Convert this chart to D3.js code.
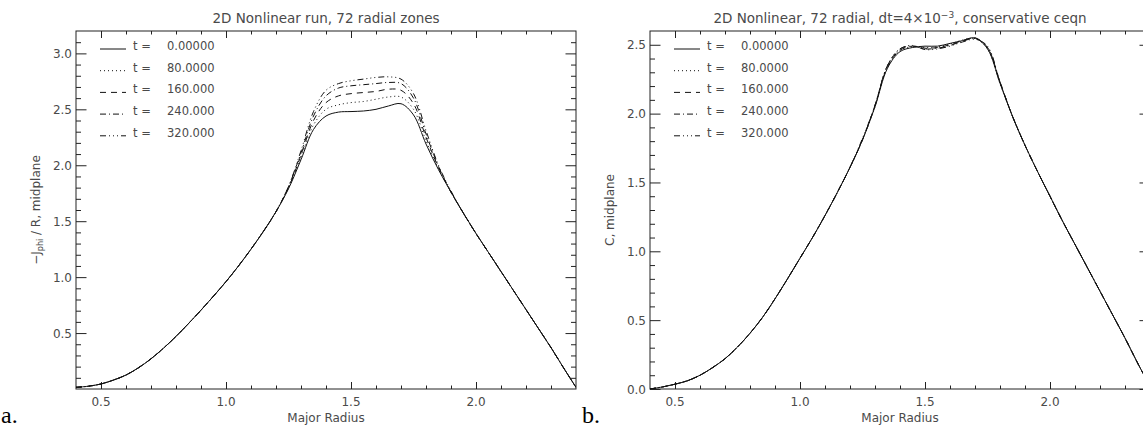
<!DOCTYPE html>
<meta charset="utf-8">
<script src="https://d3js.org/d3.v7.min.js"></script>
<style>
  body { margin: 0; background: #fff; }
  text { font-family: "DejaVu Sans", sans-serif; fill: #4a4a4a; }
</style>
<div id="my_dataviz"></div>
<script>

// radial grid (major radius)
var radius = [0.40,0.45,0.50,0.55,0.60,0.65,0.70,0.75,0.80,0.85,0.90,0.95,1.00,1.05,1.10,1.15,1.20,1.25,1.30,1.35,
              1.40,1.45,1.50,1.55,1.60,1.65,1.70,1.75,1.80,1.85,1.90,1.95,2.00,2.05,2.10,2.15,2.20,2.25,2.30,2.35,2.40];

// panel a: -J_phi / R at midplane
var jphi_t0   = [0.015,0.025,0.045,0.08,0.125,0.19,0.27,0.365,0.47,0.585,0.705,0.83,0.96,1.10,1.25,1.41,1.585,1.79,2.05,2.32,
                 2.44,2.475,2.48,2.485,2.50,2.53,2.55,2.45,2.19,1.96,1.76,1.57,1.39,1.22,1.05,0.88,0.71,0.54,0.37,0.19,0.015];
var jphi_t80  = [0.015,0.025,0.045,0.08,0.125,0.19,0.27,0.365,0.47,0.585,0.705,0.83,0.96,1.10,1.25,1.41,1.585,1.80,2.07,2.36,
                 2.50,2.54,2.56,2.57,2.59,2.61,2.61,2.50,2.22,1.97,1.76,1.57,1.39,1.22,1.05,0.88,0.71,0.54,0.37,0.19,0.015];
var jphi_t160 = [0.015,0.025,0.045,0.08,0.125,0.19,0.27,0.365,0.47,0.585,0.705,0.83,0.96,1.10,1.25,1.41,1.585,1.80,2.09,2.40,
                 2.56,2.62,2.64,2.65,2.66,2.68,2.67,2.55,2.25,1.98,1.76,1.57,1.39,1.22,1.05,0.88,0.71,0.54,0.37,0.19,0.015];
var jphi_t240 = [0.015,0.025,0.045,0.08,0.125,0.19,0.27,0.365,0.47,0.585,0.705,0.83,0.96,1.10,1.25,1.41,1.585,1.81,2.11,2.44,
                 2.62,2.69,2.71,2.72,2.73,2.74,2.73,2.60,2.28,1.99,1.76,1.57,1.39,1.22,1.05,0.88,0.71,0.54,0.37,0.19,0.015];
var jphi_t320 = [0.015,0.025,0.045,0.08,0.125,0.19,0.27,0.365,0.47,0.585,0.705,0.83,0.96,1.10,1.25,1.41,1.585,1.81,2.13,2.48,
                 2.67,2.73,2.755,2.77,2.785,2.79,2.77,2.64,2.31,2.00,1.77,1.57,1.39,1.22,1.05,0.88,0.71,0.54,0.37,0.19,0.015];

// panel b: C at midplane
var c_t0   = [0.0,0.015,0.035,0.06,0.10,0.155,0.22,0.305,0.405,0.52,0.655,0.80,0.95,1.10,1.26,1.43,1.61,1.81,2.05,2.33,
              2.45,2.48,2.49,2.49,2.51,2.53,2.55,2.47,2.22,1.98,1.77,1.58,1.40,1.22,1.05,0.88,0.71,0.54,0.37,0.19,0.02];
var c_t80  = [0.0,0.015,0.035,0.06,0.10,0.155,0.22,0.305,0.405,0.52,0.655,0.80,0.95,1.10,1.26,1.43,1.61,1.81,2.05,2.34,
              2.46,2.485,2.48,2.485,2.505,2.535,2.545,2.47,2.22,1.98,1.77,1.58,1.40,1.22,1.05,0.88,0.71,0.54,0.37,0.19,0.02];
var c_t160 = [0.0,0.015,0.035,0.06,0.10,0.155,0.22,0.305,0.405,0.52,0.655,0.80,0.95,1.10,1.26,1.43,1.61,1.81,2.06,2.34,
              2.46,2.49,2.475,2.48,2.50,2.53,2.55,2.48,2.23,1.98,1.77,1.58,1.40,1.22,1.05,0.88,0.71,0.54,0.37,0.19,0.02];
var c_t240 = [0.0,0.015,0.035,0.06,0.10,0.155,0.22,0.305,0.405,0.52,0.655,0.80,0.95,1.10,1.26,1.43,1.61,1.81,2.06,2.35,
              2.47,2.49,2.47,2.475,2.495,2.525,2.545,2.48,2.23,1.98,1.77,1.58,1.40,1.22,1.05,0.88,0.71,0.54,0.37,0.19,0.02];
var c_t320 = [0.0,0.015,0.035,0.06,0.10,0.155,0.22,0.305,0.405,0.52,0.655,0.80,0.95,1.10,1.26,1.43,1.61,1.82,2.06,2.35,
              2.47,2.495,2.465,2.47,2.49,2.52,2.54,2.49,2.23,1.98,1.77,1.58,1.40,1.22,1.05,0.88,0.71,0.54,0.37,0.19,0.02];

var times  = ["0.00000", "80.0000", "160.000", "240.000", "320.000"];
var dashes = ["none", "1,3", "6,5", "6,3,1,3", "6,3,1,3,1,3,1,3"];

// tick values
var xMajor  = [0.5, 1.0, 1.5, 2.0];
var xMinor  = [0.6,0.7,0.8,0.9,1.1,1.2,1.3,1.4,1.6,1.7,1.8,1.9,2.1,2.2,2.3];
var yMajorA = [0.5, 1.0, 1.5, 2.0, 2.5, 3.0];
var yMinorA = [0.1,0.2,0.3,0.4,0.6,0.7,0.8,0.9,1.1,1.2,1.3,1.4,1.6,1.7,1.8,1.9,2.1,2.2,2.3,2.4,2.6,2.7,2.8,2.9,3.1];
var yMajorB = [0.0, 0.5, 1.0, 1.5, 2.0, 2.5];
var yMinorB = [0.1,0.2,0.3,0.4,0.6,0.7,0.8,0.9,1.1,1.2,1.3,1.4,1.6,1.7,1.8,1.9,2.1,2.2,2.3,2.4];

var W = 1143, H = 427;
var plotTop = 31, plotBottom = 389;

var svg = d3.select("#my_dataviz")
  .append("svg")
    .attr("width", W)
    .attr("height", H);

function panel(p) {
  var x = d3.scaleLinear().domain([0.4, 2.4]).range([p.left, p.left + 500]);
  var y = d3.scaleLinear().domain(p.ydom).range([plotBottom, plotTop]);
  var g = svg.append("g");

  // frame
  g.append("rect")
    .attr("x", p.left).attr("y", plotTop)
    .attr("width", 500).attr("height", plotBottom - plotTop)
    .attr("fill", "none").attr("stroke", "#222").attr("stroke-width", 1);

  // inward ticks on all four sides, IDL style
  function ticks(axisFn, scale, vals, len, transform) {
    var a = g.append("g").attr("transform", transform)
      .call(axisFn(scale).tickValues(vals).tickSize(-len).tickFormat(""));
    a.select(".domain").remove();
    a.selectAll("line").attr("stroke", "#222");
  }
  ticks(d3.axisBottom, x, xMajor, 7, "translate(0," + plotBottom + ")");
  ticks(d3.axisBottom, x, xMinor, 3.5, "translate(0," + plotBottom + ")");
  ticks(d3.axisTop, x, xMajor, 7, "translate(0," + plotTop + ")");
  ticks(d3.axisTop, x, xMinor, 3.5, "translate(0," + plotTop + ")");
  ticks(d3.axisLeft, y, p.yMajor, 10.5, "translate(" + p.left + ",0)");
  ticks(d3.axisLeft, y, p.yMinor, 5, "translate(" + p.left + ",0)");
  ticks(d3.axisRight, y, p.yMajor, 10.5, "translate(" + (p.left + 500) + ",0)");
  ticks(d3.axisRight, y, p.yMinor, 5, "translate(" + (p.left + 500) + ",0)");

  // tick labels
  g.selectAll(".xl").data(xMajor).enter().append("text")
    .attr("x", function(d) { return x(d); })
    .attr("y", 406)
    .attr("text-anchor", "middle")
    .style("font-size", "12px")
    .text(d3.format(".1f"));
  g.selectAll(".yl").data(p.yMajor).enter().append("text")
    .attr("x", p.left - 4)
    .attr("y", function(d) { return y(d) + 4.5; })
    .attr("text-anchor", "end")
    .style("font-size", "12px")
    .text(d3.format(".1f"));

  // axis titles
  g.append("text")
    .attr("x", p.left + 250).attr("y", 422)
    .attr("text-anchor", "middle")
    .style("font-size", "12px")
    .text("Major Radius");

  var yt = g.append("text")
    .attr("transform", "translate(" + (p.left - 36) + "," + ((plotTop + plotBottom) / 2) + ") rotate(-90)")
    .attr("text-anchor", "middle")
    .style("font-size", "12px");
  p.ylabel(yt);

  var tt = g.append("text")
    .attr("x", p.left + 250).attr("y", 23)
    .attr("text-anchor", "middle")
    .style("font-size", "13.5px");
  p.title(tt);

  // curves
  var line = d3.line()
    .x(function(d) { return x(d[0]); })
    .y(function(d) { return y(d[1]); })
    .curve(d3.curveCatmullRom.alpha(0.5));

  g.append("defs").append("clipPath").attr("id", "clip" + p.id)
    .append("rect").attr("x", p.left).attr("y", plotTop).attr("width", 500).attr("height", plotBottom - plotTop);

  p.series.forEach(function(s, i) {
    g.append("path")
      .datum(d3.zip(radius, s))
      .attr("clip-path", "url(#clip" + p.id + ")")
      .attr("fill", "none")
      .attr("stroke", "#111")
      .attr("stroke-width", 1)
      .attr("stroke-dasharray", dashes[i])
      .attr("d", line);
  });

  // legend
  times.forEach(function(t, i) {
    var ly = 50 + i * 21.7;
    g.append("line")
      .attr("x1", p.left + 24).attr("x2", p.left + 50)
      .attr("y1", ly - 1).attr("y2", ly - 1)
      .attr("stroke", "#111").attr("stroke-width", 1)
      .attr("stroke-dasharray", dashes[i]);
    g.append("text")
      .attr("x", p.left + 57).attr("y", ly)
      .style("font-size", "11.5px")
      .text("t =");
    g.append("text")
      .attr("x", p.left + 91).attr("y", ly)
      .style("font-size", "11.5px")
      .text(t);
  });

  // panel letter
  svg.append("text")
    .attr("x", p.letterX).attr("y", 423)
    .style("font-family", "'Liberation Serif', serif")
    .style("font-size", "24px")
    .style("fill", "#000")
    .text(p.letter);
}

panel({
  id: "a", left: 76, ydom: [0, 3.2], yMajor: yMajorA, yMinor: yMinorA,
  series: [jphi_t0, jphi_t80, jphi_t160, jphi_t240, jphi_t320],
  letter: "a.", letterX: 1,
  title: function(t) { t.text("2D Nonlinear run, 72 radial zones"); },
  ylabel: function(t) {
    t.append("tspan").text("\u2212J");
    t.append("tspan").attr("dy", 3).style("font-size", "8px").text("phi");
    t.append("tspan").attr("dy", -3).text(" / R, midplane");
  }
});

panel({
  id: "b", left: 650, ydom: [0, 2.6], yMajor: yMajorB, yMinor: yMinorB,
  series: [c_t0, c_t80, c_t160, c_t240, c_t320],
  letter: "b.", letterX: 582,
  title: function(t) {
    t.append("tspan").text("2D Nonlinear, 72 radial, dt=4\u00d710");
    t.append("tspan").attr("dy", -5).style("font-size", "9px").text("\u22123");
    t.append("tspan").attr("dy", 5).text(", conservative ceqn");
  },
  ylabel: function(t) { t.text("C, midplane"); }
});

</script>
